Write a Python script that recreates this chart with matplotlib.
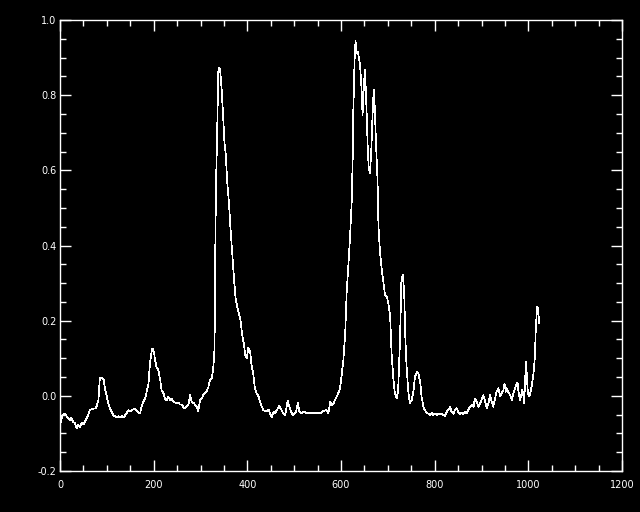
import numpy as np
import matplotlib
matplotlib.use('Agg')
import matplotlib.pyplot as plt
from matplotlib.ticker import MultipleLocator

# spectrum, in four pieces (channel, value)
chan_a = [2, 5, 11, 14, 18, 21, 24, 28, 32, 36, 39, 43, 46, 50, 53, 57, 60, 64, 68, 71,
          75, 78, 82, 85, 89, 93, 96, 100, 103, 107, 110, 114, 117, 121, 125, 128, 132, 135, 139, 142,
          146, 150, 153, 157, 160, 164, 167, 171, 174, 178, 182, 185, 189, 192, 196, 198, 201, 203, 206, 210,
          214, 217, 221, 224, 228, 231, 235, 238, 242, 246, 249, 253, 256, 260, 263, 267, 270, 274]
sig_a = [-0.069, -0.052, -0.047, -0.054, -0.060, -0.065, -0.058, -0.069, -0.073, -0.087,
         -0.078, -0.083, -0.072, -0.076, -0.069, -0.060, -0.052, -0.036, -0.036, -0.034,
         -0.034, -0.029, -0.011, 0.047, 0.049, 0.044, 0.020, -0.002, -0.020, -0.034,
         -0.042, -0.052, -0.054, -0.058, -0.054, -0.058, -0.054, -0.058, -0.052, -0.047,
         -0.038, -0.042, -0.038, -0.036, -0.034, -0.040, -0.043, -0.047, -0.029, -0.016,
         -0.007, 0.011, 0.033, 0.086, 0.122, 0.126, 0.113, 0.095, 0.077, 0.068,
         0.042, 0.015, 0.007, -0.007, -0.012, -0.002, -0.011, -0.007, -0.016, -0.018,
         -0.020, -0.018, -0.023, -0.023, -0.029, -0.034, -0.027, -0.025]

chan_b = [278, 281, 286, 292, 295, 299, 303, 306, 310, 313, 317, 320, 324, 327, 330, 331,
          333, 336, 338, 340, 342, 345, 347, 349, 351, 354, 357, 361, 364, 368, 372, 375,
          379, 382, 386, 389, 393, 396, 399, 402, 406, 409, 413, 416, 420, 424, 427, 431]
sig_b = [0.002, -0.016, -0.020, -0.029, -0.042, -0.011, -0.007, 0.002, 0.009, 0.011,
         0.024, 0.042, 0.047, 0.069, 0.126, 0.321, 0.552, 0.729, 0.863, 0.873,
         0.867, 0.818, 0.774, 0.729, 0.676, 0.641, 0.570, 0.508, 0.446, 0.375,
         0.304, 0.259, 0.233, 0.220, 0.197, 0.162, 0.135, 0.104, 0.100, 0.128,
         0.117, 0.082, 0.055, 0.020, 0.007, -0.002, -0.016, -0.029]

chan_c = [434, 441, 445, 448, 452, 456, 459, 463, 468, 472, 477, 481, 486, 490, 495, 498,
          504, 508, 511, 516, 521, 527, 534, 541, 548, 555, 562, 569, 573, 577, 580, 584,
          587, 591, 594, 598, 601, 605, 609, 612, 616, 619, 623, 625, 626, 629, 631, 633,
          636, 638, 641, 644, 646, 648, 651, 653, 655, 657, 659, 662, 665, 668, 670, 672,
          675, 678, 680, 683, 687, 690, 694, 698, 701, 705, 708, 712, 715, 719, 722, 726,
          729, 732, 735, 737, 740, 744, 747, 751, 755, 758, 762, 765, 769, 772]
sig_c = [-0.038, -0.042, -0.036, -0.045, -0.057, -0.042, -0.047, -0.038, -0.026, -0.036,
         -0.047, -0.051, -0.013, -0.029, -0.047, -0.051, -0.042, -0.018, -0.042, -0.047,
         -0.042, -0.047, -0.045, -0.047, -0.045, -0.047, -0.040, -0.038, -0.047, -0.016,
         -0.025, -0.020, -0.011, -0.002, 0.007, 0.020, 0.051, 0.095, 0.166, 0.273,
         0.353, 0.415, 0.521, 0.636, 0.743, 0.894, 0.945, 0.911, 0.916, 0.902,
         0.876, 0.814, 0.747, 0.805, 0.867, 0.814, 0.743, 0.663, 0.610, 0.592,
         0.663, 0.769, 0.814, 0.769, 0.663, 0.574, 0.450, 0.388, 0.335, 0.308,
         0.268, 0.264, 0.246, 0.211, 0.113, 0.042, 0.007, -0.007, 0.015, 0.148,
         0.308, 0.321, 0.273, 0.166, 0.078, 0.007, -0.020, -0.011, 0.015, 0.051,
         0.064, 0.060, 0.038, -0.002]

chan_d = [776, 779, 783, 787, 790, 794, 797, 801, 804, 808, 811, 815, 819, 822, 826, 829,
          833, 836, 840, 843, 847, 851, 854, 858, 861, 865, 868, 872, 876, 879, 883, 886,
          890, 893, 897, 900, 904, 908, 911, 915, 918, 922, 925, 929, 932, 936, 940, 943,
          947, 949, 952, 954, 957, 961, 965, 968, 972, 975, 977, 979, 982, 984, 987, 989,
          991, 993, 995, 997, 999, 1002, 1004, 1007, 1011, 1014, 1016, 1019, 1021, 1023]
sig_d = [-0.029, -0.038, -0.045, -0.048, -0.051, -0.045, -0.051, -0.047, -0.051, -0.047,
         -0.048, -0.048, -0.051, -0.055, -0.042, -0.038, -0.029, -0.042, -0.048, -0.038,
         -0.033, -0.045, -0.048, -0.045, -0.048, -0.042, -0.047, -0.036, -0.029, -0.024,
         -0.029, -0.007, -0.016, -0.029, -0.020, -0.011, 0.002, -0.016, -0.033, -0.020,
         0.002, -0.016, -0.029, -0.007, 0.011, 0.020, -0.002, 0.007, 0.016, 0.033,
         0.011, 0.020, 0.011, 0.002, -0.011, 0.007, 0.020, 0.033, 0.035, 0.011,
         -0.011, -0.002, 0.016, 0.007, -0.020, 0.033, 0.091, 0.051, 0.007, -0.002,
         0.007, 0.024, 0.060, 0.104, 0.184, 0.237, 0.233, 0.193]

chan = np.array(chan_a + chan_b + chan_c + chan_d)
sig = np.array(sig_a + sig_b + sig_c + sig_d)

fig = plt.figure(figsize=(6.4, 5.12), dpi=100, facecolor='black')
ax = fig.add_axes([60/640, 41/512, 562/640, 451/512], facecolor='black')

# thin hard-edged line, like the IDL original
ax.plot(chan, sig, color='white', lw=0.5, antialiased=False)

ax.set_xlim(0, 1200)
ax.set_ylim(-0.2, 1.0)
ax.xaxis.set_major_locator(MultipleLocator(200))
ax.xaxis.set_minor_locator(MultipleLocator(50))
ax.yaxis.set_major_locator(MultipleLocator(0.2))
ax.yaxis.set_minor_locator(MultipleLocator(0.05))
ax.set_xticklabels([str(int(v)) for v in ax.get_xticks()])
ax.set_yticks(np.arange(-0.2, 1.01, 0.2))
ax.set_yticklabels(['%.1f' % v for v in np.arange(-0.2, 1.01, 0.2)])

for s in ax.spines.values():
    s.set_color('white')
    s.set_linewidth(1)
ax.tick_params(which='both', direction='in', top=True, right=True,
               colors='white', labelsize=7, width=1)
ax.tick_params(which='major', length=8)
ax.tick_params(which='minor', length=4.3)
ax.tick_params(axis='x', pad=6.5)
ax.tick_params(axis='y', pad=2.5)

fig.savefig('out.png', dpi=100, facecolor='black')
